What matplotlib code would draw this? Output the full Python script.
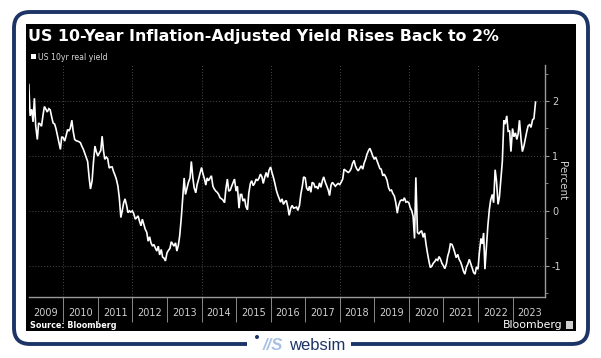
import numpy as np
import pandas as pd
import matplotlib
matplotlib.use('Agg')
import matplotlib.pyplot as plt
from matplotlib.patches import FancyBboxPatch, Rectangle, Circle

plt.rcParams['axes.unicode_minus'] = False

# US 10yr real yield, semi-monthly readings (1st and 15th), percent
y2009 = [2.30, 1.73, 1.85, 1.62, 2.05, 1.55, 1.30, 1.60, 1.58, 1.54, 1.75, 1.90,
         1.85, 1.80, 1.86, 1.84, 1.70, 1.60, 1.58, 1.50, 1.36, 1.25, 1.12, 1.35]
y2010 = [1.33, 1.27, 1.38, 1.48, 1.46, 1.50, 1.65, 1.45, 1.30, 1.28, 1.27, 1.26,
         1.24, 1.18, 1.12, 1.05, 0.97, 0.90, 0.60, 0.40, 0.55, 0.88, 1.18, 1.08]
y2011 = [1.00, 1.05, 1.10, 1.36, 1.10, 0.94, 0.98, 0.95, 0.78, 0.80, 0.80, 0.72,
         0.65, 0.58, 0.45, 0.25, -0.12, 0.00, 0.15, 0.22, 0.10, -0.03, 0.00, -0.02]
y2012 = [0.00, -0.05, -0.15, -0.12, -0.09, -0.18, -0.27, -0.15, -0.25, -0.33, -0.39, -0.55,
         -0.47, -0.58, -0.64, -0.61, -0.68, -0.73, -0.64, -0.80, -0.70, -0.84, -0.86, -0.91]
y2013 = [-0.76, -0.72, -0.68, -0.56, -0.60, -0.64, -0.58, -0.73, -0.62, -0.45, -0.12, 0.21,
         0.60, 0.30, 0.42, 0.52, 0.60, 0.90, 0.60, 0.42, 0.33, 0.48, 0.58, 0.68]
y2014 = [0.79, 0.68, 0.58, 0.47, 0.60, 0.55, 0.60, 0.64, 0.45, 0.40, 0.36, 0.34,
         0.30, 0.24, 0.22, 0.20, 0.15, 0.40, 0.58, 0.36, 0.38, 0.45, 0.52, 0.58]
y2015 = [0.36, 0.45, 0.05, 0.30, 0.30, 0.18, 0.22, 0.08, 0.02, 0.32, 0.50, 0.55,
         0.46, 0.50, 0.58, 0.55, 0.60, 0.67, 0.62, 0.50, 0.62, 0.70, 0.61, 0.74]
y2016 = [0.80, 0.70, 0.60, 0.50, 0.38, 0.30, 0.22, 0.16, 0.22, 0.12, 0.17, 0.19,
         0.07, -0.08, 0.05, 0.10, 0.05, 0.06, 0.07, 0.01, 0.10, 0.30, 0.45, 0.62]
y2017 = [0.60, 0.42, 0.37, 0.45, 0.34, 0.52, 0.50, 0.43, 0.44, 0.40, 0.51, 0.43,
         0.55, 0.62, 0.52, 0.46, 0.38, 0.28, 0.47, 0.52, 0.48, 0.45, 0.48, 0.50]
y2018 = [0.48, 0.52, 0.58, 0.76, 0.74, 0.72, 0.70, 0.72, 0.77, 0.86, 0.92, 0.82,
         0.76, 0.73, 0.78, 0.82, 0.76, 0.87, 0.94, 1.03, 1.10, 1.14, 1.07, 1.00]
y2019 = [0.94, 0.98, 0.90, 0.84, 0.77, 0.76, 0.64, 0.67, 0.62, 0.56, 0.42, 0.37,
         0.38, 0.32, 0.27, 0.16, -0.04, 0.10, 0.18, 0.20, 0.19, 0.24, 0.16, 0.17]
y2020 = [0.15, 0.06, 0.00, -0.10, -0.50, 0.61, -0.39, -0.42, -0.38, -0.36, -0.48, -0.40,
         -0.61, -0.76, -0.92, -1.03, -1.00, -0.95, -0.92, -0.88, -0.90, -0.83, -0.88, -0.95]
y2021 = [-1.00, -1.05, -0.96, -0.82, -0.74, -0.60, -0.61, -0.67, -0.76, -0.85, -0.79, -0.88,
         -0.93, -1.00, -1.10, -1.15, -1.02, -0.97, -0.88, -0.95, -1.04, -1.12, -1.15, -1.02]
y2022 = [-1.06, -0.76, -0.50, -0.60, -0.40, -1.06, -0.62, -0.27, 0.03, 0.20, 0.30, 0.15,
         0.75, 0.55, 0.12, 0.25, 0.62, 0.90, 1.65, 1.58, 1.73, 1.45, 1.46, 1.08]
y2023 = [1.50, 1.35, 1.42, 1.30, 1.40, 1.65, 1.30, 1.08, 1.18, 1.30, 1.45, 1.55,
         1.57, 1.52, 1.66, 1.68, 1.98]

yields = (y2009 + y2010 + y2011 + y2012 + y2013 + y2014 + y2015 + y2016 +
          y2017 + y2018 + y2019 + y2020 + y2021 + y2022 + y2023)
dates = pd.date_range('2009-01-01', periods=len(yields), freq='SMS')

years = list(range(2009, 2024))
y_ticks = [-1, 0, 1, 2]

title = 'US 10-Year Inflation-Adjusted Yield Rises Back to 2%'
navy = '#1d3566'

fig = plt.figure(figsize=(6.01, 3.58), dpi=100)
fig.patch.set_facecolor('white')

# background layer in pixel coordinates
bg = fig.add_axes([0, 0, 1, 1])
bg.set_xlim(0, 601)
bg.set_ylim(358, 0)
bg.axis('off')
bg.add_patch(FancyBboxPatch((14, 12), 574, 332, boxstyle='round,pad=0,rounding_size=16',
                            fc='none', ec=navy, lw=2.8))
bg.add_patch(Rectangle((26, 24), 550, 307, fc='black', ec='none'))
bg.add_patch(Rectangle((247, 338), 104, 14, fc='white', ec='none'))

bg.text(28, 37, title, color='white', fontsize=11.4, fontweight='bold', va='center', ha='left')
bg.add_patch(Rectangle((31, 54), 5, 5, fc='white', ec='none'))
bg.text(38, 57, 'US 10yr real yield', color='#d8d8d8', fontsize=5.6, va='center', ha='left')
bg.text(30, 326, 'Source: Bloomberg', color='white', fontsize=5.8, fontweight='bold',
        va='center', ha='left')
bg.text(563, 325, 'Bloomberg', color='white', fontsize=7.8, va='center', ha='right')
bg.add_patch(Rectangle((566, 321), 7, 8, fc='#cfcfcf', ec='none'))

# websim mark
bg.add_patch(Circle((257, 337), 2.0, fc=navy, ec='none'))
bg.text(273, 346, '//S', color='#a8c2e6', fontsize=12, fontweight='bold', fontstyle='italic',
        family='Liberation Sans', va='center', ha='center')
bg.text(317, 345, 'websim', color=navy, fontsize=12, family='Liberation Sans',
        va='center', ha='center')

# main chart
ax = fig.add_axes([28.8 / 601, 1 - 296.7 / 358, (545 - 28.8) / 601, (296.7 - 65) / 358])
ax.set_facecolor('black')
ax.plot(dates, yields, color='white', lw=1.2, solid_joinstyle='miter')

ax.set_xlim(pd.Timestamp('2009-01-01'), pd.Timestamp('2023-12-10'))
ax.set_ylim(-1.56, 2.655)

for s in ['top', 'left']:
    ax.spines[s].set_visible(False)
ax.spines['right'].set_color('#9a9a9a')
ax.spines['bottom'].set_color('#9a9a9a')
ax.spines['right'].set_linewidth(1.0)
ax.spines['bottom'].set_linewidth(1.0)

ax.yaxis.tick_right()
ax.yaxis.set_label_position('right')
ax.set_yticks(y_ticks)
ax.set_yticks([-1.5, -0.5, 0.5, 1.5, 2.5], minor=True)
ax.tick_params(axis='y', which='major', length=3, color='#9a9a9a', labelcolor='#cfcfcf',
               labelsize=7, pad=2)
ax.tick_params(axis='y', which='minor', length=2, color='#9a9a9a')
ax.set_ylabel('Percent', rotation=270, color='#cfcfcf', fontsize=7.5, labelpad=4)

ax.set_xticks([pd.Timestamp(f'{y}-01-01') for y in years[1:]])
ax.set_xticks([pd.Timestamp(f'{y}-07-02') for y in years], minor=True)
ax.set_xticklabels([], minor=False)
ax.set_xticklabels([str(y) for y in years], minor=True)
ax.tick_params(axis='x', which='major', length=18, color='#8a8a8a', width=0.7, direction='out')
ax.tick_params(axis='x', which='minor', length=0, labelcolor='#cfcfcf', labelsize=7, pad=8)

ax.grid(axis='y', which='major', color='#4a4a4a', ls=(0, (1, 2)), lw=0.7)
for y in years[1::2]:
    ax.axvline(pd.Timestamp(f'{y}-01-01'), color='#4a4a4a', ls=(0, (1, 2)), lw=0.7, zorder=0)
ax.set_axisbelow(True)

fig.savefig('out.png', dpi=100, facecolor='white')
